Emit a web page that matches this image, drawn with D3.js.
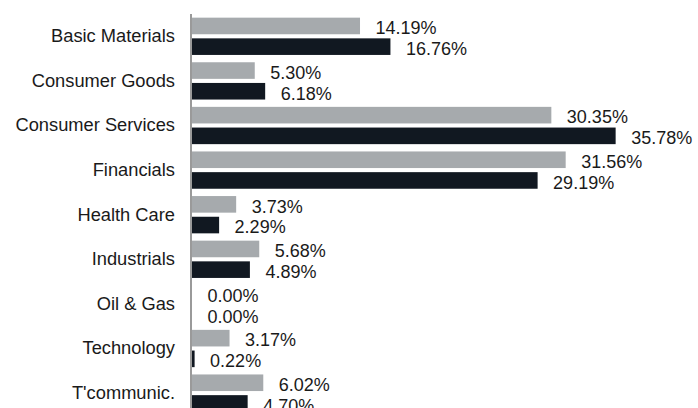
<!DOCTYPE html>
<html>
<head>
<meta charset="utf-8">
<script src="https://cdn.jsdelivr.net/npm/d3@7"></script>
<style>
  html, body { margin: 0; padding: 0; background: #fff; }
  svg { display: block; }
  text { font-family: "Liberation Sans", Arial, sans-serif; fill: #1a1a1a; }
</style>
</head>
<body>
<svg id="chart" width="698" height="408"></svg>
<script>
const categories = ["Basic Materials", "Consumer Goods", "Consumer Services", "Financials",
  "Health Care", "Industrials", "Oil & Gas", "Technology", "T'communic."];
const seriesNames = ["A", "B"];
const seriesA = [14.19, 5.30, 30.35, 31.56, 3.73, 5.68, 0.00, 3.17, 6.02];
const seriesB = [16.76, 6.18, 35.78, 29.19, 2.29, 4.89, 0.00, 0.22, 4.70];
const colors = ["#a6aaad", "#111821"];

const svg = d3.select("#chart");
const W = 698, H = 408;

const x = d3.scaleLinear().domain([0, 40]).range([192, 192 + 40 * 11.84]);
const y = d3.scaleBand().domain(categories).range([14, 14 + 9 * 44.6])
  .paddingInner(0.164).paddingOuter(0.082);
const ySub = d3.scaleBand().domain(seriesNames).range([0, y.bandwidth()])
  .paddingInner(0.198).paddingOuter(0);

const rows = categories.map((c, i) => ({ cat: c, vals: [seriesA[i], seriesB[i]] }));

const g = svg.selectAll("g.cat").data(rows).enter().append("g")
  .attr("class", "cat")
  .attr("transform", d => `translate(0,${y(d.cat)})`);

g.selectAll("rect").data(d => d.vals.map((v, j) => ({ v, s: seriesNames[j], j })))
  .enter().append("rect")
  .attr("x", x(0))
  .attr("y", d => ySub(d.s))
  .attr("width", d => x(d.v) - x(0))
  .attr("height", ySub.bandwidth())
  .attr("fill", d => colors[d.j]);

g.selectAll("text.val").data(d => d.vals.map((v, j) => ({ v, s: seriesNames[j] })))
  .enter().append("text")
  .attr("class", "val")
  .attr("x", d => x(d.v) + 15.5)
  .attr("y", d => ySub(d.s) + ySub.bandwidth())
  .attr("font-size", 18)
  .text(d => d.v.toFixed(2) + "%");

// category axis
const axis = d3.axisLeft(y).tickSize(0).tickPadding(16);
const ax = svg.append("g").attr("transform", `translate(${x(0) - 1},0)`).call(axis);
ax.select(".domain").remove();
ax.selectAll("text").attr("font-size", 18.3).attr("font-family", "Liberation Sans, Arial, sans-serif")
  .attr("fill", "#1a1a1a");
ax.append("line").attr("x1", 0).attr("x2", 0).attr("y1", 14).attr("y2", H)
  .attr("stroke", "#9a9a9a").attr("stroke-width", 2);
</script>
</body>
</html>
